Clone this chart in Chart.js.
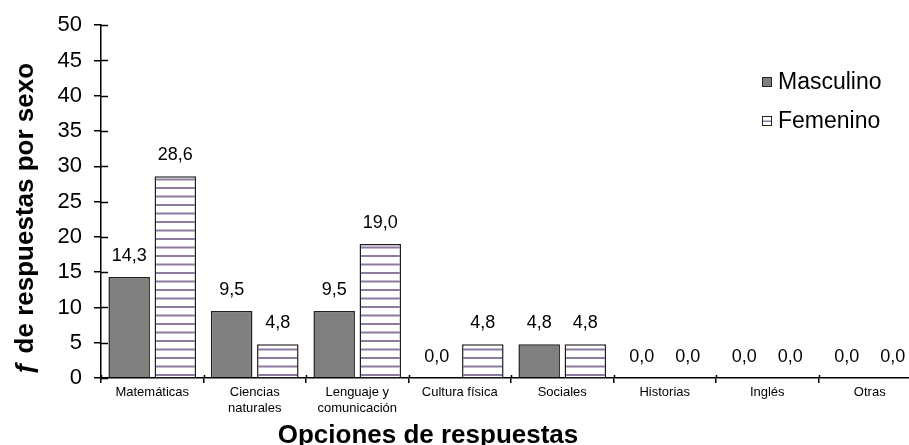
<!DOCTYPE html>
<html>
<head>
<meta charset="utf-8">
<script src="https://cdn.jsdelivr.net/npm/chart.js@4/dist/chart.umd.min.js"></script>
<style>
  html, body { margin: 0; padding: 0; background: #fff; overflow: hidden; }
  #wrap { width: 909px; height: 445px; overflow: hidden; position: relative; }
  canvas { display: block; }
</style>
</head>
<body>
<div id="wrap"><canvas id="c" width="930" height="445"></canvas></div>
<script>
// Response options (x categories)
const categories = [
  'Matemáticas',
  ['Ciencias', 'naturales'],
  ['Lenguaje y', 'comunicación'],
  'Cultura física',
  'Sociales',
  'Historias',
  'Inglés',
  'Otras'
];
// Frequency of answers by sex (%)
const masculino = [14.3, 9.5, 9.5, 0.0, 4.8, 0.0, 0.0, 0.0];
const femenino  = [28.6, 4.8, 19.0, 4.8, 4.8, 0.0, 0.0, 0.0];
const seriesNames = ['Masculino', 'Femenino'];
const yTicks = [0, 5, 10, 15, 20, 25, 30, 35, 40, 45, 50];

const yTitle = 'ƒ de respuestas por sexo';
const xTitle = 'Opciones de respuestas';

const FONT = '"Liberation Sans", Arial, sans-serif';

// Horizontal-stripe fill for the second series
function stripePattern() {
  const t = document.createElement('canvas');
  t.width = 8; t.height = 17;
  const g = t.getContext('2d');
  g.fillStyle = '#ffffff';
  g.fillRect(0, 0, 8, 17);
  g.fillStyle = '#8d7a9f';
  g.fillRect(0, 0, 8, 2);
  g.fillRect(0, 8.5, 8, 2);
  return document.getElementById('c').getContext('2d').createPattern(t, 'repeat');
}
const stripes = stripePattern();

const fmt = v => v.toFixed(1).replace('.', ',');

// Value labels above each bar
const valueLabels = {
  id: 'valueLabels',
  afterDatasetsDraw(chart) {
    const ctx = chart.ctx;
    ctx.save();
    ctx.font = '18px ' + FONT;
    ctx.fillStyle = '#000';
    ctx.textAlign = 'center';
    ctx.textBaseline = 'middle';
    chart.data.datasets.forEach((ds, i) => {
      chart.getDatasetMeta(i).data.forEach((el, j) => {
        ctx.fillText(fmt(ds.data[j]), el.x, el.y - 21);
      });
    });
    ctx.restore();
  }
};

// Inner halves of the axis tick marks, axis titles and legend
const decorations = {
  id: 'decorations',
  afterDraw(chart) {
    const ctx = chart.ctx;
    const ys = chart.scales.y;
    const area = chart.chartArea;
    ctx.save();
    ctx.strokeStyle = '#000';
    ctx.lineWidth = 1.5;
    ctx.beginPath();
    yTicks.forEach(v => {
      const py = Math.round(ys.getPixelForValue(v)) + 0.5;
      ctx.moveTo(area.left, py);
      ctx.lineTo(area.left + 7, py);
    });
    for (let k = 0; k <= categories.length; k++) {
      const px = Math.round(area.left + k * (area.right - area.left) / categories.length) + 0.5;
      ctx.moveTo(px, area.bottom);
      ctx.lineTo(px, area.bottom - 3);
    }
    ctx.stroke();

    // axis titles
    ctx.fillStyle = '#000';
    ctx.font = 'bold 26px ' + FONT;
    ctx.textAlign = 'center';
    ctx.textBaseline = 'alphabetic';
    ctx.fillText(xTitle, 428, 443);
    ctx.save();
    ctx.translate(33, 219);
    ctx.rotate(-Math.PI / 2);
    ctx.fillText(yTitle, 0, 0);
    ctx.restore();

    // legend
    ctx.font = '23px ' + FONT;
    ctx.textAlign = 'left';
    ctx.textBaseline = 'middle';
    const fills = ['#808080', '#ffffff'];
    const ly = [82, 121];
    seriesNames.forEach((name, i) => {
      ctx.fillStyle = fills[i];
      ctx.fillRect(762, ly[i] - 5, 10, 10);
      if (i === 1) {
        ctx.fillStyle = '#8d7a9f';
        ctx.fillRect(762, ly[i] - 0.5, 10, 1.5);
      }
      ctx.strokeStyle = '#222';
      ctx.lineWidth = 1;
      ctx.strokeRect(762.5, ly[i] - 4.5, 9, 9);
      ctx.fillStyle = '#000';
      ctx.fillText(name, 778, ly[i] + 1);
    });
    ctx.restore();
  }
};

new Chart(document.getElementById('c'), {
  type: 'bar',
  data: {
    labels: categories,
    datasets: [
      {
        label: seriesNames[0],
        data: masculino,
        backgroundColor: '#808080',
        borderColor: '#1e1e1e',
        borderWidth: 1.5,
        borderSkipped: 'bottom',
        categoryPercentage: 0.9,
        barPercentage: 0.9
      },
      {
        label: seriesNames[1],
        data: femenino,
        backgroundColor: stripes,
        borderColor: '#1e1e1e',
        borderWidth: 1.5,
        borderSkipped: 'bottom',
        categoryPercentage: 0.9,
        barPercentage: 0.9
      }
    ]
  },
  options: {
    responsive: false,
    animation: false,
    layout: { padding: { top: 23, right: 9, bottom: 0, left: 0 } },
    plugins: { legend: { display: false }, tooltip: { enabled: false } },
    scales: {
      x: {
        grid: {
          offset: true,
          drawOnChartArea: false,
          drawTicks: true,
          tickLength: 5,
          color: '#000',
          lineWidth: 1.5
        },
        border: { color: '#000', width: 1.5 },
        ticks: {
          color: '#000',
          font: { family: FONT, size: 13 },
          padding: 2,
          maxRotation: 0,
          autoSkip: false
        },
        afterFit(s) { s.height = 67; }
      },
      y: {
        min: 0,
        max: 50,
        afterBuildTicks(s) { s.ticks = yTicks.map(v => ({ value: v })); },
        grid: {
          drawOnChartArea: false,
          drawTicks: true,
          tickLength: 7,
          color: '#000',
          lineWidth: 1.5
        },
        border: { color: '#000', width: 1.5 },
        ticks: {
          color: '#000',
          font: { family: FONT, size: 22 },
          padding: 12
        },
        afterFit(s) { s.width = 101; }
      }
    }
  },
  plugins: [valueLabels, decorations]
});
</script>
</body>
</html>
